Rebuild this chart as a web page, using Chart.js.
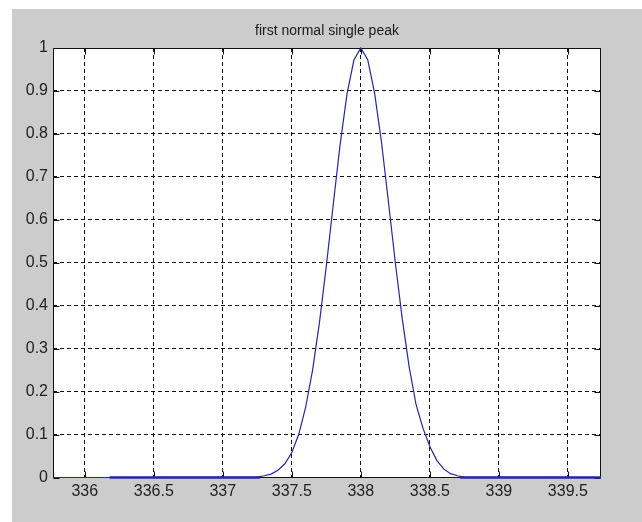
<!DOCTYPE html>
<html>
<head>
<meta charset="utf-8">
<script src="https://cdn.jsdelivr.net/npm/chart.js@4/dist/chart.umd.min.js"></script>
<style>
  html, body { margin: 0; padding: 0; background: #ffffff; width: 642px; height: 522px; overflow: hidden; }
  #wrap { position: absolute; left: 12px; top: 9px; width: 630px; height: 513px; }
  canvas { display: block; }
</style>
</head>
<body>
<div id="wrap"><canvas id="c" width="630" height="513"></canvas></div>
<script>
// ---- data ----
const titleText = 'first normal single peak';

const curveX = [335.77, 336.18, 337.25, 337.30, 337.35, 337.40, 337.45, 337.50, 337.55, 337.60,
                337.65, 337.70, 337.75, 337.80, 337.85, 337.90, 337.95, 338.00, 338.05, 338.10,
                338.15, 338.20, 338.25, 338.30, 338.35, 338.40, 338.45, 338.50, 338.55, 338.60,
                338.65, 338.70, 338.75, 339.74];
const curveY = [0, 0, 0.001, 0.004, 0.008, 0.017, 0.032, 0.058, 0.100, 0.163,
                0.249, 0.360, 0.492, 0.635, 0.775, 0.893, 0.972, 1.000, 0.973, 0.895,
                0.780, 0.642, 0.500, 0.370, 0.258, 0.170, 0.115, 0.072, 0.040, 0.020,
                0.009, 0.004, 0.001, 0];

// flat zero segments that appear heavier in the picture
const baseStartX = [336.18, 338.72];
const baseEndX   = [337.27, 339.74];

const xMin = 335.77, xMax = 339.74;
const xTicks = [336, 336.5, 337, 337.5, 338, 338.5, 339, 339.5];
const xTickLabels = ['336', '336.5', '337', '337.5', '338', '338.5', '339', '339.5'];
const yTicks = [0, 0.1, 0.2, 0.3, 0.4, 0.5, 0.6, 0.7, 0.8, 0.9, 1];
const yTickLabels = ['0', '0.1', '0.2', '0.3', '0.4', '0.5', '0.6', '0.7', '0.8', '0.9', '1'];

// ---- build library tables ----
const curvePoints = curveX.map((x, i) => ({ x: x, y: curveY[i] }));
const basePoints = [];
baseStartX.forEach((s, i) => {
  if (i > 0) basePoints.push({ x: (baseEndX[i - 1] + s) / 2, y: null });
  basePoints.push({ x: s, y: 0 });
  basePoints.push({ x: baseEndX[i], y: 0 });
});

const FONT = "'Liberation Sans', Arial, Helvetica, sans-serif";
const LINE = '#2626a6';

const framePlugin = {
  id: 'frame',
  beforeDraw(chart) {
    const { ctx, chartArea: a } = chart;
    ctx.save();
    ctx.fillStyle = '#cccccc';
    ctx.fillRect(0, 0, chart.width, chart.height);
    ctx.fillStyle = '#ffffff';
    ctx.fillRect(a.left, a.top, a.right - a.left, a.bottom - a.top);
    // title, centred over the plot box
    ctx.fillStyle = '#1a1a1a';
    ctx.font = '14px ' + FONT;
    ctx.textAlign = 'center';
    ctx.textBaseline = 'alphabetic';
    ctx.fillText(titleText, (a.left + a.right) / 2, 26);
    ctx.restore();
  },
  beforeDatasetsDraw(chart) {
    const { ctx, chartArea: a, scales } = chart;
    const L = Math.round(a.left) + 0.5, R = Math.round(a.right) - 0.5;
    const T = Math.round(a.top) + 0.5, B = Math.floor(a.bottom) + 0.5;
    ctx.save();
    ctx.strokeStyle = '#111111';
    ctx.lineWidth = 1;
    ctx.setLineDash([]);
    ctx.beginPath();
    ctx.rect(L, T, R - L, B - T);
    const tl = 6;
    scales.x.ticks.forEach(t => {
      const px = Math.round(scales.x.getPixelForValue(t.value)) + 0.5;
      ctx.moveTo(px, B); ctx.lineTo(px, B - tl);
      ctx.moveTo(px, T); ctx.lineTo(px, T + tl);
    });
    scales.y.ticks.forEach(t => {
      const py = Math.round(scales.y.getPixelForValue(t.value)) + 0.5;
      ctx.moveTo(L, py); ctx.lineTo(L + tl, py);
      ctx.moveTo(R, py); ctx.lineTo(R - tl, py);
    });
    ctx.stroke();
    ctx.restore();
  }
};

new Chart(document.getElementById('c'), {
  type: 'line',
  data: {
    datasets: [
      {
        label: 'peak',
        data: curvePoints,
        borderColor: LINE,
        borderWidth: 1.2,
        pointRadius: 0,
        tension: 0,
        fill: false,
        clip: false
      },
      {
        label: 'base',
        data: basePoints,
        borderColor: LINE,
        borderWidth: 2.4,
        pointRadius: 0,
        tension: 0,
        fill: false,
        spanGaps: false,
        clip: false
      }
    ]
  },
  options: {
    responsive: false,
    animation: false,
    devicePixelRatio: 1,
    layout: { padding: { left: 0, right: 41, top: 39, bottom: 0 } },
    plugins: {
      legend: { display: false },
      tooltip: { enabled: false },
      title: { display: false }
    },
    scales: {
      x: {
        type: 'linear',
        min: xMin,
        max: xMax,
        afterBuildTicks: s => { s.ticks = xTicks.map(v => ({ value: v })); },
        afterFit: s => { s.height = 44.5; },
        ticks: {
          color: '#222222',
          font: { family: FONT, size: 16 },
          padding: 4.5,
          maxRotation: 0,
          autoSkip: false,
          callback: (v, i) => xTickLabels[i]
        },
        grid: { color: '#111111', lineWidth: 1, drawTicks: false },
        border: { display: false, dash: [4, 3] }
      },
      y: {
        type: 'linear',
        min: 0,
        max: 1,
        afterBuildTicks: s => { s.ticks = yTicks.map(v => ({ value: v })); },
        afterFit: s => { s.width = 41; },
        ticks: {
          color: '#222222',
          font: { family: FONT, size: 16 },
          padding: 5,
          autoSkip: false,
          callback: (v, i) => yTickLabels[i]
        },
        grid: { color: '#111111', lineWidth: 1, drawTicks: false },
        border: { display: false, dash: [4, 3] }
      }
    }
  },
  plugins: [framePlugin]
});
</script>
</body>
</html>
